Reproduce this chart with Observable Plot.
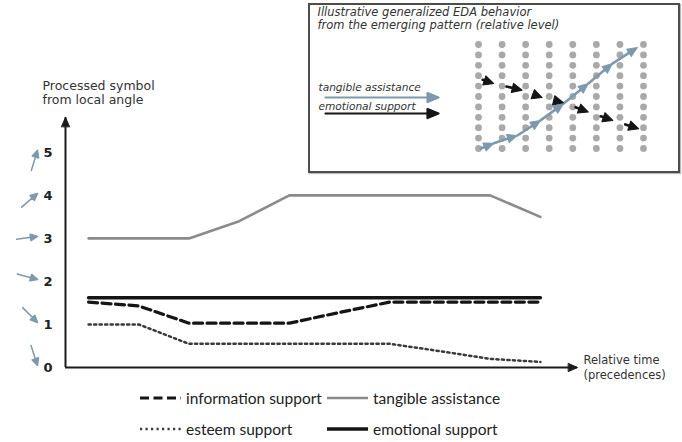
<!DOCTYPE html>
<html><head><meta charset="utf-8">
<script src="https://cdn.jsdelivr.net/npm/d3@7"></script>
<script src="https://cdn.jsdelivr.net/npm/@observablehq/plot@0.6"></script>
<style>
html,body{margin:0;padding:0;background:#fff;}
#wrap{position:relative;width:682px;height:442px;overflow:hidden;background:#fff;}
#main{position:absolute;left:0;top:0;}
#inset{position:absolute;left:308px;top:3px;width:368px;height:166px;border:2px solid #4d4d4d;background:#fff;box-shadow:1px 1px 1px #bbb;}
#inset svg, #main svg{display:block;}
.leg{position:absolute;display:flex;align-items:center;font-family:Lato,"Open Sans",sans-serif;font-size:15.5px;color:#222;white-space:nowrap;height:20px;}
.leg svg{margin-right:5px;}
</style></head><body>
<div id="wrap"><div id="main"></div><div id="inset"></div><div id="legend"></div></div>
<script>
// ---------- data ----------
const steps = [0, 1, 2, 3, 4, 5, 6, 7, 8, 9];
const informationSupport = [1.52, 1.43, 1.03, 1.03, 1.03, 1.28, 1.52, 1.52, 1.52, 1.52];
const tangibleAssistance = [3, 3, 3, 3.4, 4, 4, 4, 4, 4, 3.5];
const esteemSupport = [1.0, 1.0, 0.55, 0.55, 0.55, 0.55, 0.55, 0.38, 0.2, 0.13];
const emotionalSupport = [1.62, 1.62, 1.62, 1.62, 1.62, 1.62, 1.62, 1.62, 1.62, 1.62];
const yTicks = [0, 1, 2, 3, 4, 5];
const tickArrowAngles = [162, 135, 105, 82, 49, 17];
const yLabel = "Processed symbol\nfrom local angle";
const xLabel = "Relative time\n(precedences)";

const insetTitle = "Illustrative generalized EDA behavior\nfrom the emerging pattern (relative level)";
const insetCols = [0, 1, 2, 3, 4, 5, 6, 7];
const insetRows = [0, 1, 2, 3, 4, 5, 6, 7, 8, 9, 10];
const tangiblePathCols = [0.1, 0.65, 1.65, 2.63, 3.6, 4.66, 5.68, 6.74];
const tangiblePathRows = [10, 9.5, 8.75, 7.3, 5.7, 3.75, 1.83, 0.29];
const emotionalPathCols = [-0.35, 0.65, 1.85, 2.7, 3.6, 4.66, 5.7, 6.8];
const emotionalPathRows = [3.0, 3.75, 4.4, 5.1, 5.6, 6.5, 7.3, 8.1];
const insetLegend = ["tangible assistance", "emotional support"];

const legendLabels = ["information support", "tangible assistance", "esteem support", "emotional support"];

// ---------- styles ----------
const C = {tangible: "#8b8b8b", black: "#151515", blue: "#7d99ad", dot: "#a9a9a9", text: "#333"};
const seriesStyle = {
  "information support": {stroke: C.black, strokeWidth: 3.2, dash: "9,4.5"},
  "tangible assistance": {stroke: C.tangible, strokeWidth: 2.6, dash: null},
  "esteem support": {stroke: "#3a3a3a", strokeWidth: 2.5, dash: "2.2,3.3"},
  "emotional support": {stroke: C.black, strokeWidth: 3.6, dash: null}
};

function arrowShape(headLen, half, shaft) {
  return {draw(ctx, l) {
    if (shaft) { ctx.moveTo(0, 0); ctx.lineTo(0, -l + headLen * 0.7); }
    ctx.moveTo(-half, -l + headLen); ctx.lineTo(0, -l); ctx.lineTo(half, -l + headLen); ctx.closePath();
  }};
}

// ---------- main chart ----------
const xDom = [-0.46, 9.74], yDom = [0, 5.81];
const series = [
  ["esteem support", esteemSupport],
  ["information support", informationSupport],
  ["tangible assistance", tangibleAssistance],
  ["emotional support", emotionalSupport]
];
const lineMarks = series.map(([name, vals]) => {
  const s = seriesStyle[name];
  return Plot.line(steps, {x: d => d, y: (d, i) => vals[i], stroke: s.stroke, strokeWidth: s.strokeWidth,
    strokeDasharray: s.dash, strokeLinejoin: "round"});
});

const mainPlot = Plot.plot({
  width: 682, height: 380,
  marginLeft: 65, marginRight: 105, marginTop: 117, marginBottom: 13,
  x: {domain: xDom, axis: null},
  y: {domain: yDom},
  style: {fontFamily: "DejaVu Sans", background: "transparent", overflow: "visible"},
  marks: [
    ...lineMarks,
    Plot.ruleY([yDom[0]], {x1: xDom[0], x2: xDom[1], stroke: "#1a1a1a", strokeWidth: 2}),
    Plot.ruleX([xDom[0]], {y1: yDom[0], y2: yDom[1], stroke: "#1a1a1a", strokeWidth: 2}),
    Plot.vector([[xDom[1], yDom[0], 90], [xDom[0], yDom[1], 0]], {
      x: d => d[0], y: d => d[1], rotate: d => d[2], length: 9, anchor: "end",
      shape: arrowShape(9, 4, false), fill: "#1a1a1a", stroke: "#1a1a1a", strokeWidth: 1
    }),
    Plot.axisY(yTicks, {tickSize: 0, tickPadding: 13, fontSize: 13, fontWeight: "bold", fill: "#222", label: null}),
    Plot.vector(yTicks, {
      y: d => d, rotate: (d, i) => tickArrowAngles[i], length: 21, anchor: "end",
      frameAnchor: "left", dx: -28, dy: -2,
      shape: arrowShape(7, 3.3, true), stroke: C.blue, fill: C.blue, strokeWidth: 1.5
    }),
    Plot.text([yLabel], {text: d => d, frameAnchor: "top-left", dx: -23, dy: -25, textAnchor: "start",
      lineAnchor: "middle", lineHeight: 1.12, fontSize: 12.5, fill: C.text}),
    Plot.text([xLabel], {text: d => d, frameAnchor: "bottom-right", dx: 6, dy: -1, textAnchor: "start",
      lineAnchor: "middle", lineHeight: 1.3, fontSize: 11.5, fill: C.text})
  ]
});
document.getElementById("main").appendChild(mainPlot);

// ---------- inset ----------
const insetX = {domain: [0, 7], range: [168, 333]};
const insetY = {domain: [0, 10], range: [39, 143]};
const kx = (insetX.range[1] - insetX.range[0]) / (insetX.domain[1] - insetX.domain[0]);
const ky = (insetY.range[1] - insetY.range[0]) / (insetY.domain[1] - insetY.domain[0]);
function segments(cols, rows) {
  const out = [];
  for (let i = 1; i < cols.length; i++) {
    const dxp = (cols[i] - cols[i - 1]) * kx, dyp = (rows[i] - rows[i - 1]) * ky;
    out.push({x1: cols[i - 1], y1: rows[i - 1], x2: cols[i], y2: rows[i],
      angle: Math.atan2(dxp, -dyp) * 180 / Math.PI});
  }
  return out;
}
const blueSegs = segments(tangiblePathCols, tangiblePathRows);
const blackSegs = segments(emotionalPathCols, emotionalPathRows);
const grid = d3.cross(insetCols, insetRows);

const insetPlot = Plot.plot({
  width: 368, height: 166, marginLeft: 0, marginRight: 0, marginTop: 0, marginBottom: 0,
  x: {...insetX, axis: null}, y: {...insetY, axis: null},
  style: {fontFamily: "DejaVu Sans", background: "transparent", overflow: "visible"},
  marks: [
    Plot.dot(grid, {x: d => d[0], y: d => d[1], r: 3.4, fill: C.dot}),
    Plot.arrow(blueSegs, {x1: "x1", y1: "y1", x2: "x2", y2: "y2", headLength: 0, insetEnd: 4,
      stroke: C.blue, strokeWidth: 2.6}),
    Plot.vector(blueSegs, {x: "x2", y: "y2", rotate: "angle", length: 10, anchor: "end",
      shape: arrowShape(10, 4.3, false), fill: C.blue, stroke: C.blue, strokeWidth: 1}),
    Plot.arrow(blackSegs, {x1: "x1", y1: "y1", x2: "x2", y2: "y2", headLength: 0, insetStart: 13, insetEnd: 4,
      stroke: C.black, strokeWidth: 2.6}),
    Plot.vector(blackSegs, {x: "x2", y: "y2", rotate: "angle", length: 10, anchor: "end",
      shape: arrowShape(10, 4.8, false), fill: C.black, stroke: C.black, strokeWidth: 1}),
    Plot.text([insetTitle], {text: d => d, frameAnchor: "top-left", dx: 7, dy: 2, textAnchor: "start",
      lineAnchor: "top", lineHeight: 1.1, fontSize: 11.5, fontStyle: "italic", fill: C.text}),
    Plot.text([insetLegend[0]], {text: d => d, frameAnchor: "top-left", dx: 8, dy: 82, textAnchor: "start",
      lineAnchor: "middle", fontSize: 10.6, fontStyle: "italic", fill: C.text}),
    Plot.text([insetLegend[1]], {text: d => d, frameAnchor: "top-left", dx: 8, dy: 101, textAnchor: "start",
      lineAnchor: "middle", fontSize: 10.6, fontStyle: "italic", fill: C.text}),
    Plot.vector([insetLegend[0]], {frameAnchor: "top-left", dx: 128, dy: 92, rotate: 90, length: 113, anchor: "end",
      shape: arrowShape(11, 4.5, true), stroke: C.blue, fill: C.blue, strokeWidth: 2.2}),
    Plot.vector([insetLegend[1]], {frameAnchor: "top-left", dx: 128, dy: 108, rotate: 90, length: 113, anchor: "end",
      shape: arrowShape(11, 4.5, true), stroke: C.black, fill: C.black, strokeWidth: 2.2})
  ]
});
document.getElementById("inset").appendChild(insetPlot);

// ---------- legend ----------
const legendPos = [[140, 398], [327, 398], [140, 429], [327, 429]];
const legend = document.getElementById("legend");
legendLabels.forEach((name, i) => {
  const s = seriesStyle[name];
  const div = document.createElement("div");
  div.className = "leg";
  div.style.left = legendPos[i][0] + "px";
  div.style.top = (legendPos[i][1] - 10) + "px";
  const w = 41;
  div.innerHTML = `<svg width="${w}" height="10"><line x1="0" x2="${w}" y1="5" y2="5" stroke="${s.stroke}" stroke-width="${s.strokeWidth}" ${s.dash ? `stroke-dasharray="${s.dash}"` : ""}/></svg><span>${name}</span>`;
  legend.appendChild(div);
});
</script>
</body></html>
